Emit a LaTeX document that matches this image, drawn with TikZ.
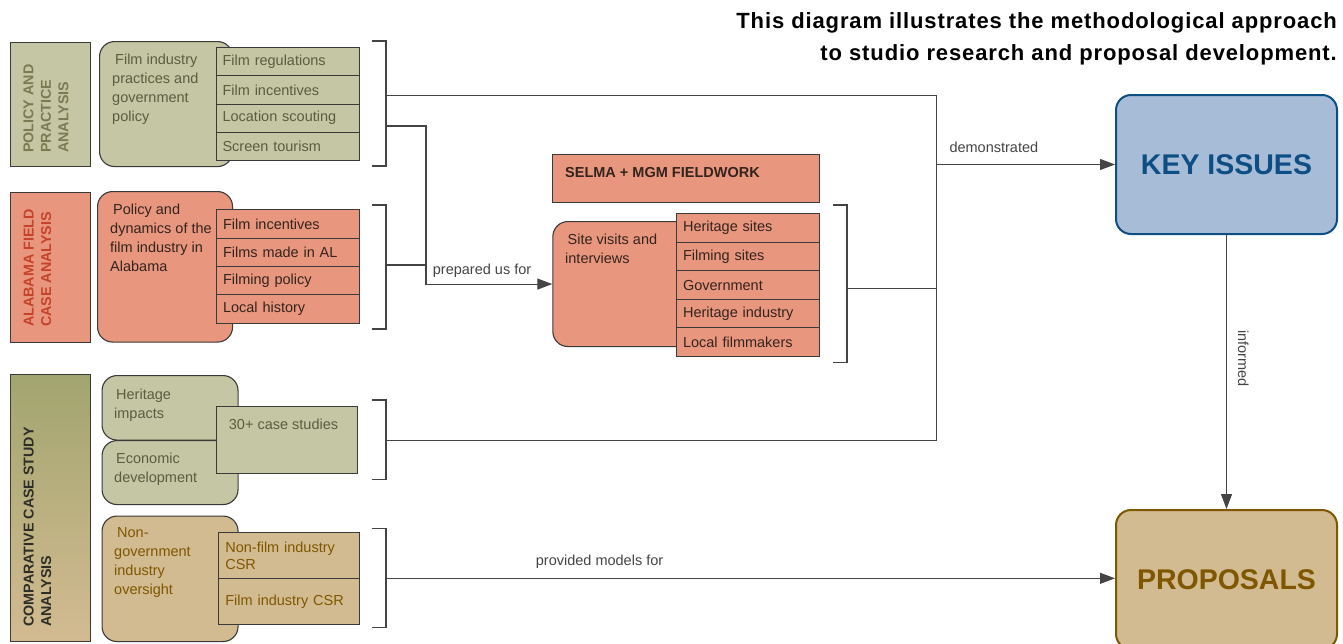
\documentclass[tikz,border=0pt]{standalone}
\usepackage{fontspec}
\setmainfont{Liberation Sans}
\usetikzlibrary{arrows.meta,calc}
\definecolor{olivefill}{HTML}{C5C6A3}
\definecolor{olivelbl}{HTML}{7B7A52}
\definecolor{olivetxt}{HTML}{5C5C42}
\definecolor{salmon}{HTML}{E9967F}
\definecolor{redlbl}{HTML}{C4432A}
\definecolor{darktxt}{HTML}{33241D}
\definecolor{tanfill}{HTML}{D3BB91}
\definecolor{browntxt}{HTML}{7F5700}
\definecolor{bluefill}{HTML}{A7BCD7}
\definecolor{blueedge}{HTML}{0D4E85}
\definecolor{gradtop}{HTML}{A2A56F}
\definecolor{edgec}{HTML}{3A3A3A}
\definecolor{linec}{HTML}{444444}
\definecolor{compl}{HTML}{2E2E28}
\newcommand{\mybody}{\fontsize{14.5}{18.8}\selectfont}
\begin{document}
\begin{tikzpicture}[x=1pt,y=-1pt,
  lblbox/.style={draw=edgec, line width=1.1pt, anchor=north west, inner sep=0},
  rbox/.style={draw=edgec, line width=1.1pt, rounded corners=15pt, anchor=north west, inner sep=0},
  subbox/.style={draw=edgec, line width=1.1pt, anchor=north west, inner xsep=6.5pt, inner ysep=0pt, align=left, font=\mybody},
  txt/.style={anchor=north west, inner sep=0, align=left, font=\mybody},
  vlab/.style={rotate=90, anchor=west, inner sep=0, align=left, font=\fontsize{14.3}{17.5}\selectfont\bfseries},
  ln/.style={draw=linec, line width=1.1pt},
  arr/.style={ln, -{Triangle[length=15pt,width=11pt]}},
  clab/.style={anchor=base west, inner sep=0, text=linec, font=\fontsize{14.5}{17}\selectfont},
  bigbox/.style={line width=2pt, rounded corners=15pt, minimum width=221pt, minimum height=139pt, anchor=north west, inner sep=0, font=\fontsize{28.5}{30}\selectfont\bfseries},
]
\useasboundingbox (0,0) rectangle (1343,643);

% title
\node[anchor=north east, inner sep=0, align=right, font={\fontsize{22}{32}\selectfont\bfseries\addfontfeatures{LetterSpace=4}}] (title) at (1337,12) {This diagram illustrates the methodological approach\\to studio research and proposal development.};

% left labels
\node[lblbox, fill=olivefill, minimum width=80.5pt, minimum height=124.5pt] (lp) at (9.5,41.5) {};
\node[vlab, text=olivelbl] (lp-t) at (45.9,153) {POLICY AND\\PRACTICE\\ANALYSIS};
\node[lblbox, fill=salmon, minimum width=80.5pt, minimum height=150pt] (la) at (9.5,191.5) {};
\node[vlab, text=redlbl] (la-t) at (37.5,327) {ALABAMA FIELD\\CASE ANALYSIS};
\node[lblbox, top color=gradtop, bottom color=tanfill, minimum width=80.5pt, minimum height=267pt] (lc) at (9.5,374) {};
\node[vlab, text=compl] (lc-t) at (37.5,627) {COMPARATIVE CASE STUDY\\ANALYSIS};

% rounded boxes
\node[rbox, fill=olivefill, minimum width=133pt, minimum height=125pt] (pol) at (99,41) {};
\node[txt, text=olivetxt] (pol-t) at (112,54.2) {\hspace*{3pt}Film industry\\practices and\\government\\policy};
\node[rbox, fill=salmon, minimum width=135pt, minimum height=150.5pt] (ala) at (97,191) {};
\node[txt, text=darktxt] (ala-t) at (110,204.2) {\hspace*{3pt}Policy and\\dynamics of the\\film industry in\\Alabama};
\node[rbox, fill=olivefill, minimum width=136pt, minimum height=64.5pt] (her) at (101.5,375) {};
\node[txt, text=olivetxt] (her-t) at (114,388.5) {\hspace*{2pt}Heritage\\impacts};
\node[rbox, fill=olivefill, minimum width=136pt, minimum height=64pt] (eco) at (101.5,440) {};
\node[txt, text=olivetxt] (eco-t) at (114,453) {\hspace*{2pt}Economic\\development};
\node[rbox, fill=tanfill, minimum width=136pt, minimum height=125.5pt] (ngo) at (101.5,515.5) {};
\node[txt, text=browntxt] (ngo-t) at (114,527.5) {\hspace*{3pt}Non-\\government\\industry\\oversight};
\node[rbox, fill=salmon, minimum width=140pt, minimum height=125pt] (site) at (552.3,221) {};
\node[txt, text=darktxt] (site-t) at (565,234) {\hspace*{2.5pt}Site visits and\\interviews};

% sub boxes: policy
\begin{scope}[every node/.append style={subbox, fill=olivefill, text=olivetxt, minimum width=143.5pt, text width=130.5pt, minimum height=28.25pt}]
\node (p1) at (215.5,47) {Film regulations};
\node (p2) at (215.5,75.25) {Film incentives};
\node (p3) at (215.5,103.5) {Location scouting};
\node (p4) at (215.5,131.75) {Screen tourism};
\end{scope}
% sub boxes: alabama
\begin{scope}[every node/.append style={subbox, fill=salmon, text=darktxt, minimum width=143pt, text width=130pt, minimum height=28.35pt}]
\node (a1) at (216,209.3) {Film incentives};
\node (a2) at (216,237.65) {Films made in AL};
\node (a3) at (216,266) {Filming policy};
\node (a4) at (216,294.35) {Local history};
\end{scope}
% sub boxes: site visits
\begin{scope}[every node/.append style={subbox, fill=salmon, text=darktxt, minimum width=143.3pt, text width=130.3pt, minimum height=28.5pt}]
\node (s1) at (676,213.3) {Heritage sites};
\node (s2) at (676,241.8) {Filming sites};
\node (s3) at (676,270.3) {Government};
\node (s4) at (676,298.8) {Heritage industry};
\node (s5) at (676,327.3) {Local filmmakers};
\end{scope}
% sub boxes: CSR
\begin{scope}[every node/.append style={subbox, fill=tanfill, text=browntxt, minimum width=141pt, text width=128pt, minimum height=46pt, font=\fontsize{14.5}{17.5}\selectfont}]
\node (c1) at (218.3,532.3) {Non-film industry\\CSR};
\node (c2) at (218.3,578.3) {Film industry CSR};
\end{scope}
% 30+ case studies
\node[lblbox, fill=olivefill, minimum width=141pt, minimum height=67pt] (cs) at (216,405.5) {};
\node[txt, text=olivetxt] (cs-t) at (228.7,418.5) {30+ case studies};

% SELMA
\node[lblbox, fill=salmon, minimum width=267pt, minimum height=47.4pt] (selma) at (552.3,154.3) {};
\node[txt, text=darktxt, font=\fontsize{14.5}{17}\selectfont\bfseries] (selma-t) at (565,166.8) {SELMA + MGM FIELDWORK};

% big boxes
\node[bigbox, draw=blueedge, fill=bluefill, text=blueedge] (key) at (1115,94) {KEY ISSUES};
\node[bigbox, draw=browntxt, fill=tanfill, text=browntxt] (prop) at (1115,509) {PROPOSALS};

% brackets
\draw[ln] (372,41) -- (386,41) -- (386,166) -- (372,166);
\draw[ln] (372,205) -- (386,205) -- (386,329) -- (372,329);
\draw[ln] (372,400) -- (386,400) -- (386,479.5) -- (372,479.5);
\draw[ln] (372,528.5) -- (386,528.5) -- (386,627.5) -- (372,627.5);
\draw[ln] (833,205) -- (847,205) -- (847,362.5) -- (833,362.5);

\coordinate (b1a) at (386,95.5);
\coordinate (b1b) at (386,126);
\coordinate (b2a) at (386,265);
\coordinate (b3a) at (386,440.5);
\coordinate (b4a) at (847,288.3);
\coordinate (b5a) at (386,578.3);
\coordinate (jt) at (936.5,95.5);
\coordinate (jb) at (936.5,440.5);
\coordinate (jp) at (426,284);

% connectors
\draw[ln] (b1a) -- (jt) -- (jb) -- (b3a);
\draw[ln] (b4a) -- (b4a -| jt);
\draw[arr] (jt |- key.west) -- (key.west);
\draw[arr] (b1b) -| (jp |- site.west) -- (site.west);
\draw[ln] (b2a) -- (b2a -| jp);
\draw[arr] (b5a) -- (b5a -| prop.west);
\draw[arr] (key.south) -- (prop.north);

% connector labels
\node[clab] (l-dem) at (949.3,152.7) {demonstrated};
\node[clab] (l-prep) at (432.7,274.3) {prepared us for};
\node[clab] (l-prov) at (535.7,565) {provided models for};
\node[rotate=-90, inner sep=0, text=linec, font=\fontsize{14.5}{17}\selectfont] (l-inf) at (1243.3,358.5) {informed};
\end{tikzpicture}
\end{document}
